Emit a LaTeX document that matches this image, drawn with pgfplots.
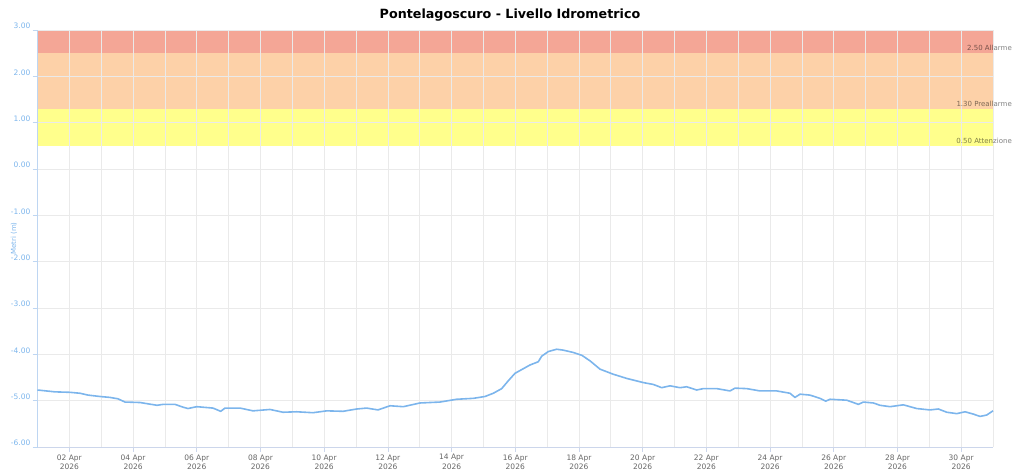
\documentclass[border=0pt]{standalone}
\usepackage{pgfplots}
\pgfplotsset{compat=1.18}
\usepackage{fontspec}
\setmainfont{DejaVu Sans}
\definecolor{hcblue}{RGB}{124,181,236}
\definecolor{axblue}{RGB}{190,214,242}
\definecolor{gridc}{RGB}{234,234,234}
\definecolor{bandred}{RGB}{244,166,150}
\definecolor{bandorange}{RGB}{253,209,168}
\definecolor{bandyellow}{RGB}{255,255,140}
\definecolor{xlab}{RGB}{102,102,102}
\definecolor{botax}{RGB}{204,214,235}
\begin{document}
\begin{tikzpicture}
\begin{axis}[
  at={(0,0)}, anchor=south west,
  scale only axis, width=955.5pt, height=417pt,
  xmin=1, xmax=31, ymin=-6, ymax=3,
  set layers,
  axis x line*=bottom, axis y line*=left,
  x axis line style={draw=botax, line width=0.8pt},
  y axis line style={draw=axblue, line width=1.2pt},
  xtick={2,4,...,30},
  xticklabels={02 Apr\\2026,04 Apr\\2026,06 Apr\\2026,08 Apr\\2026,10 Apr\\2026,12 Apr\\2026,14 Apr\\2026,16 Apr\\2026,18 Apr\\2026,20 Apr\\2026,22 Apr\\2026,24 Apr\\2026,26 Apr\\2026,28 Apr\\2026,30 Apr\\2026},
  minor xtick={1,3,...,31},
  ytick={-6,-5,...,3},
  yticklabels={-6.00,-5.00,-4.00,-3.00,-2.00,-1.00,0.00,1.00,2.00,3.00},
  xmajorgrids, xminorgrids, ymajorgrids,
  major grid style={draw=gridc, line width=0.7pt},
  minor grid style={draw=gridc, line width=0.7pt},
  tick align=outside,
  major tick length=5pt, minor tick length=0pt,
  x tick style={draw=botax, line width=0.7pt},
  y tick style={draw=axblue, line width=0.8pt},
  xticklabel style={font=\fontsize{7.5}{9.5}\selectfont, text=xlab, align=center, yshift=1pt},
  yticklabel style={font=\fontsize{7.5}{9}\selectfont, text=hcblue, anchor=south east, inner sep=0pt, xshift=-2pt, yshift=1pt},
  ylabel={Metri (m)},
  ylabel style={font=\fontsize{7}{8}\selectfont, text=hcblue, at={(axis description cs:-0.0246,0.5)}, anchor=center},
  clip=false,
]
\addplot[on layer=axis background, draw=none, fill=bandred] coordinates {(1,2.5) (31,2.5) (31,3) (1,3)} -- cycle;
\addplot[on layer=axis background, draw=none, fill=bandorange] coordinates {(1,1.3) (31,1.3) (31,2.5) (1,2.5)} -- cycle;
\addplot[on layer=axis background, draw=none, fill=bandyellow] coordinates {(1,0.5) (31,0.5) (31,1.3) (1,1.3)} -- cycle;
\node[anchor=south east, inner sep=0pt, xshift=19pt, yshift=2pt, font=\fontsize{7}{8}\selectfont, text=black, text opacity=0.5] at (axis cs:31,2.5) {2.50 Allarme};
\node[anchor=south east, inner sep=0pt, xshift=19pt, yshift=2pt, font=\fontsize{7}{8}\selectfont, text=black, text opacity=0.5] at (axis cs:31,1.3) {1.30 Preallarme};
\node[anchor=south east, inner sep=0pt, xshift=19pt, yshift=2pt, font=\fontsize{7}{8}\selectfont, text=black, text opacity=0.5] at (axis cs:31,0.5) {0.50 Attenzione};
\addplot[color=hcblue, line width=1.6pt, line join=round] coordinates {
(1.000,-4.77) (1.549,-4.81) (2.020,-4.82) (2.334,-4.84) (2.586,-4.88) (2.962,-4.91)
(3.276,-4.93) (3.527,-4.96) (3.747,-5.03) (4.218,-5.04) (4.752,-5.10) (4.940,-5.08)
(5.317,-5.08) (5.568,-5.14) (5.725,-5.17) (5.998,-5.13) (6.510,-5.16) (6.752,-5.23)
(6.887,-5.16) (7.358,-5.16) (7.766,-5.22) (8.300,-5.19) (8.708,-5.25) (9.138,-5.24)
(9.650,-5.26) (10.080,-5.22) (10.592,-5.23) (11.022,-5.18) (11.336,-5.16) (11.691,-5.20)
(12.068,-5.11) (12.485,-5.13) (13.010,-5.05) (13.637,-5.03) (14.162,-4.97) (14.683,-4.95)
(15.050,-4.91) (15.311,-4.84) (15.575,-4.74) (15.782,-4.57) (15.992,-4.41) (16.253,-4.31)
(16.463,-4.23) (16.724,-4.16) (16.830,-4.04) (17.038,-3.94) (17.301,-3.89) (17.509,-3.91)
(17.823,-3.96) (18.087,-4.02) (18.347,-4.14) (18.661,-4.32) (19.079,-4.43) (19.500,-4.52)
(20.021,-4.61) (20.335,-4.65) (20.598,-4.72) (20.859,-4.68) (21.173,-4.72) (21.383,-4.70)
(21.697,-4.77) (21.904,-4.74) (22.325,-4.74) (22.742,-4.79) (22.900,-4.73) (23.267,-4.74)
(23.685,-4.79) (24.209,-4.79) (24.626,-4.84) (24.783,-4.93) (24.940,-4.86) (25.254,-4.88)
(25.568,-4.95) (25.747,-5.01) (25.882,-4.97) (26.407,-4.99) (26.614,-5.04) (26.772,-5.08)
(26.929,-5.03) (27.243,-5.05) (27.453,-5.10) (27.767,-5.13) (28.185,-5.09) (28.605,-5.17)
(29.019,-5.20) (29.284,-5.18) (29.548,-5.25) (29.862,-5.28) (30.122,-5.24) (30.383,-5.29)
(30.593,-5.34) (30.803,-5.31) (31.000,-5.22)
};
\end{axis}
\node[font=\fontsize{12.7}{15}\selectfont\bfseries, anchor=base] at (472.5pt,428.5pt) {Pontelagoscuro - Livello Idrometrico};
\pgfresetboundingbox
\path (-37.5pt,-23pt) rectangle (985.5pt,447pt);
\end{tikzpicture}
\end{document}
